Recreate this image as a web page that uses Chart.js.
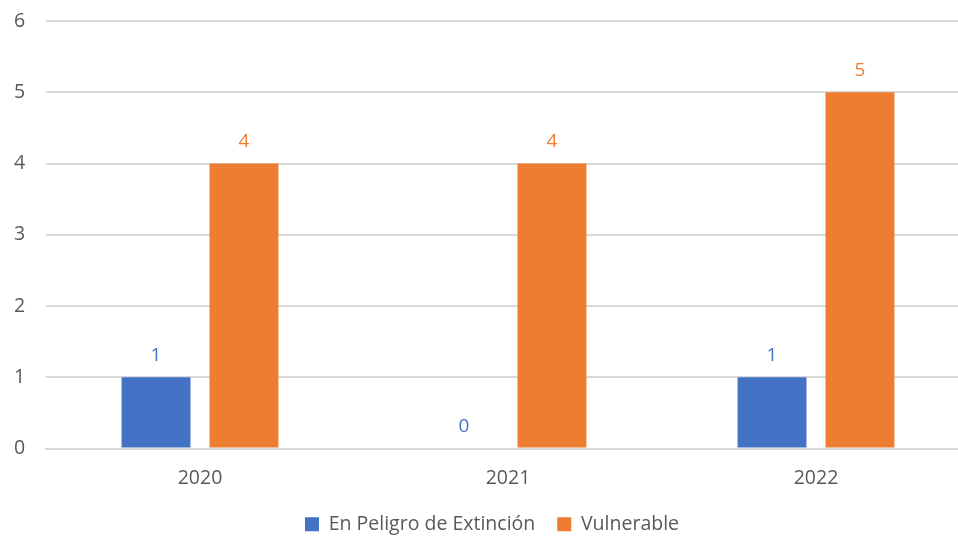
<!DOCTYPE html>
<html>
<head>
<meta charset="utf-8">
<script src="https://cdn.jsdelivr.net/npm/chart.js@4.4.0/dist/chart.umd.min.js"></script>
<style>
  html, body { margin: 0; padding: 0; background: #fff; overflow: hidden; }
  #caja { width: 1006px; height: 538px; }
</style>
</head>
<body>
<div id="caja"><canvas id="cuadroGrafico"></canvas></div>
<script>
var anios = ['2020', '2021', '2022'];
var enPeligro = [1, 0, 1];
var vulnerable = [4, 4, 5];
var ticksY = [0, 1, 2, 3, 4, 5, 6];

var azul = '#4472C4';
var naranja = '#ED7D31';
var fuente = "'Open Sans', sans-serif";

// etiquetas de valor encima de cada barra
var etiquetasBarras = {
  id: 'etiquetasBarras',
  afterDatasetsDraw: function (chart) {
    var ctx = chart.ctx;
    ctx.save();
    ctx.font = '19px ' + fuente;
    ctx.textAlign = 'center';
    ctx.textBaseline = 'middle';
    chart.data.datasets.forEach(function (ds, i) {
      chart.getDatasetMeta(i).data.forEach(function (barra, j) {
        ctx.fillStyle = ds.backgroundColor;
        ctx.fillText(ds.data[j], barra.x, barra.y - 22);
      });
    });
    ctx.restore();
  }
};

var cuadroGrafico = document.getElementById('cuadroGrafico');

var lineChart = new Chart(cuadroGrafico, {
  type: 'bar',
  data: {
    labels: anios,
    datasets: [{
      label: 'En Peligro de Extinción',
      data: enPeligro,
      backgroundColor: azul
    }, {
      label: 'Vulnerable',
      data: vulnerable,
      backgroundColor: naranja
    }]
  },
  options: {
    responsive: true,
    maintainAspectRatio: false,
    animation: false,
    datasets: {
      bar: { categoryPercentage: 0.571, barPercentage: 0.784 }
    },
    layout: { padding: { top: 21, right: 36, left: 14, bottom: -6 } },
    plugins: {
      tooltip: { enabled: false },
      legend: {
        display: true,
        position: 'bottom',
        labels: {
          boxWidth: 14,
          boxHeight: 14,
          padding: 22,
          color: '#595959',
          font: { family: fuente, size: 19.5 }
        }
      }
    },
    scales: {
      x: {
        afterFit: function (scale) { scale.height = 44; },
        grid: { display: false },
        border: { color: '#D9D9D9', width: 2 },
        ticks: { color: '#595959', padding: 10, font: { family: fuente, size: 19.5 } }
      },
      y: {
        min: 0,
        max: 6,
        afterBuildTicks: function (scale) {
          scale.ticks = ticksY.map(function (v) { return { value: v }; });
        },
        afterFit: function (scale) { scale.width = 32; },
        grid: { color: '#D9D9D9', lineWidth: 2, drawTicks: false },
        border: { display: false },
        ticks: { color: '#595959', padding: 0, crossAlign: 'far', font: { family: fuente, size: 19.5 } }
      }
    }
  },
  plugins: [etiquetasBarras]
});
</script>
</body>
</html>
